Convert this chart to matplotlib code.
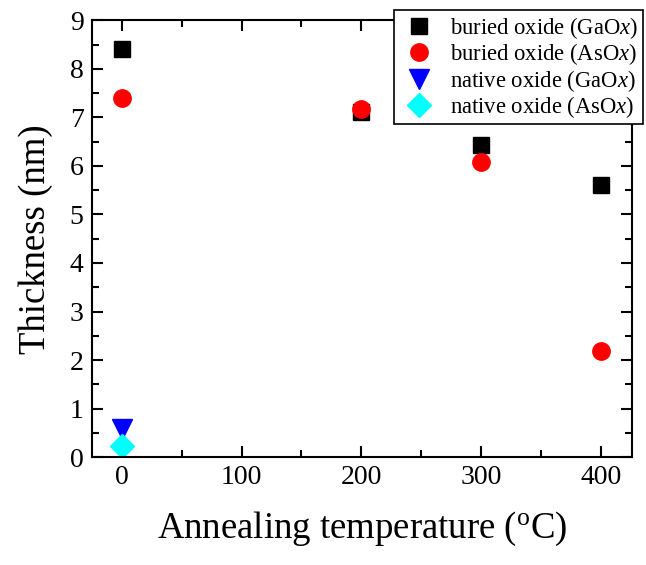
import numpy as np
import matplotlib.pyplot as plt
from matplotlib.ticker import MultipleLocator

plt.rcParams['font.family'] = ['Liberation Serif', 'DejaVu Serif']
plt.rcParams['mathtext.fontset'] = 'custom'
plt.rcParams['mathtext.rm'] = 'Liberation Serif'
plt.rcParams['mathtext.it'] = 'Liberation Serif:italic'

# data
temp_buried = [0, 200, 300, 400]
buried_gaox = [8.41, 7.12, 6.43, 5.61]
buried_asox = [7.39, 7.18, 6.09, 2.18]
temp_native = [0]
native_gaox = [0.57]
native_asox = [0.23]

fig = plt.figure(figsize=(6.46, 5.65), dpi=100)
ax = fig.add_axes([0.1424, 0.191, 0.8356, 0.773])

ax.plot(temp_buried, buried_gaox, 's', color='black', ms=11, label='buried oxide (GaO$x$)')
ax.plot(temp_buried, buried_asox, 'o', color='red', ms=12.5, label='buried oxide (AsO$x$)')
ax.plot(temp_native, native_gaox, 'v', color='blue', ms=14, label='native oxide (GaO$x$)')
ax.plot(temp_native, native_asox, 'D', color='cyan', ms=12, label='native oxide (AsO$x$)')

ax.set_xlim(-25, 426)
ax.set_ylim(0, 9)
ax.xaxis.set_major_locator(MultipleLocator(100))
ax.xaxis.set_minor_locator(MultipleLocator(50))
ax.yaxis.set_major_locator(MultipleLocator(1))
ax.yaxis.set_minor_locator(MultipleLocator(0.5))
ax.tick_params(which='both', direction='in', top=True, right=True, width=1.5, labelsize=20)
ax.tick_params(which='major', length=8)
ax.tick_params(which='minor', length=5)
ax.tick_params(axis='x', pad=6)
ax.tick_params(axis='y', pad=6)
for s in ax.spines.values():
    s.set_linewidth(1.5)

ax.set_xlabel('Annealing temperature ($^{\\mathrm{o}}$C)', fontsize=26.5, labelpad=14)
ax.set_ylabel('Thickness (nm)', fontsize=26.5, labelpad=12)

leg = ax.legend(loc='upper right', bbox_to_anchor=(1.02, 1.023), fontsize=16.3,
                frameon=True, fancybox=False, edgecolor='black', framealpha=1,
                handlelength=1.8, handletextpad=0.45, borderpad=0.2,
                labelspacing=0.02, borderaxespad=0)
leg.get_frame().set_linewidth(1.2)

fig.savefig('out.png', dpi=100)
